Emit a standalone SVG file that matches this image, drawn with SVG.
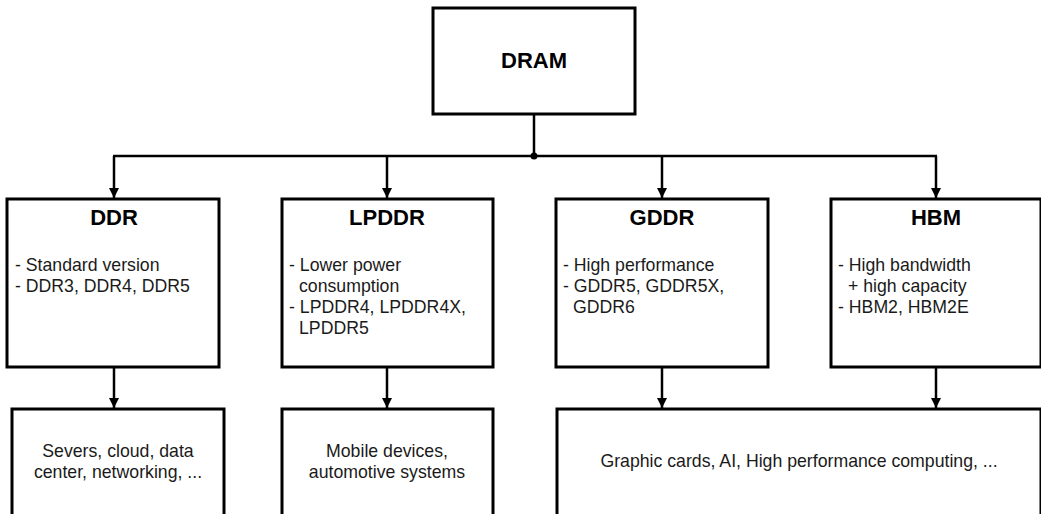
<svg xmlns="http://www.w3.org/2000/svg" width="1041" height="514" viewBox="0 0 1041 514">
  <style>
    .box { fill: #ffffff; stroke: #000000; stroke-width: 3; }
    .title { font-family: "Liberation Sans", Arial, sans-serif; font-size: 22px; font-weight: bold; fill: #000000; text-anchor: middle; }
    .body { font-family: "Liberation Sans", Arial, sans-serif; font-size: 17.7px; fill: #1a1a1a; }
    .mid { text-anchor: middle; }
    .wire { fill: none; stroke: #000000; stroke-width: 2.5; }
  </style>
  <defs>
    <marker id="arrow" markerWidth="10" markerHeight="10" refX="10" refY="5" orient="auto" markerUnits="userSpaceOnUse">
      <path d="M0,0 L10,5 L0,10 Z" fill="#000000"/>
    </marker>
  </defs>
  <rect width="1041" height="514" fill="#ffffff"/>

  <!-- connectors -->
  <g id="connectors">
    <line class="wire" x1="534" y1="114" x2="534" y2="156"/>
    <line class="wire" x1="113" y1="156" x2="937" y2="156"/>
    <circle cx="534" cy="156" r="3.5" fill="#000000"/>
    <line class="wire" x1="114" y1="156" x2="114" y2="198" marker-end="url(#arrow)"/>
    <line class="wire" x1="387" y1="156" x2="387" y2="198" marker-end="url(#arrow)"/>
    <line class="wire" x1="662" y1="156" x2="662" y2="198" marker-end="url(#arrow)"/>
    <line class="wire" x1="936" y1="156" x2="936" y2="198" marker-end="url(#arrow)"/>
    <line class="wire" x1="114" y1="367" x2="114" y2="408" marker-end="url(#arrow)"/>
    <line class="wire" x1="387" y1="367" x2="387" y2="408" marker-end="url(#arrow)"/>
    <line class="wire" x1="662" y1="367" x2="662" y2="408" marker-end="url(#arrow)"/>
    <line class="wire" x1="936" y1="367" x2="936" y2="408" marker-end="url(#arrow)"/>
  </g>

  <!-- root -->
  <g id="dram">
    <rect class="box" x="433" y="8" width="202" height="106"/>
    <text class="title" x="534" y="68">DRAM</text>
  </g>

  <!-- memory families -->
  <g id="ddr">
    <rect class="box" x="7" y="199" width="212" height="168"/>
    <text class="title" x="114" y="225">DDR</text>
    <text class="body" x="15" y="271">- Standard version</text>
    <text class="body" x="15" y="292">- DDR3, DDR4, DDR5</text>
  </g>

  <g id="lpddr">
    <rect class="box" x="282" y="199" width="211" height="168"/>
    <text class="title" x="387" y="225">LPDDR</text>
    <text class="body" x="289" y="271">- Lower power</text>
    <text class="body" x="299" y="292">consumption</text>
    <text class="body" x="289" y="313">- LPDDR4, LPDDR4X,</text>
    <text class="body" x="299" y="334">LPDDR5</text>
  </g>

  <g id="gddr">
    <rect class="box" x="556" y="199" width="212" height="168"/>
    <text class="title" x="662" y="225">GDDR</text>
    <text class="body" x="563" y="271">- High performance</text>
    <text class="body" x="563" y="292">- GDDR5, GDDR5X,</text>
    <text class="body" x="573" y="313">GDDR6</text>
  </g>

  <g id="hbm">
    <rect class="box" x="831" y="199" width="210" height="168"/>
    <text class="title" x="936" y="225">HBM</text>
    <text class="body" x="838" y="271">- High bandwidth</text>
    <text class="body" x="848" y="292">+ high capacity</text>
    <text class="body" x="838" y="313">- HBM2, HBM2E</text>
  </g>

  <!-- applications -->
  <g id="app-ddr">
    <rect class="box" x="12" y="409" width="212" height="120"/>
    <text class="body mid" x="118" y="457">Severs, cloud, data</text>
    <text class="body mid" x="118" y="478">center, networking, ...</text>
  </g>

  <g id="app-lpddr">
    <rect class="box" x="282" y="409" width="211" height="120"/>
    <text class="body mid" x="387" y="457">Mobile devices,</text>
    <text class="body mid" x="387" y="478">automotive systems</text>
  </g>

  <g id="app-gddr-hbm">
    <rect class="box" x="557" y="409" width="484" height="120"/>
    <text class="body mid" x="799" y="467">Graphic cards, AI, High performance computing, ...</text>
  </g>
</svg>
